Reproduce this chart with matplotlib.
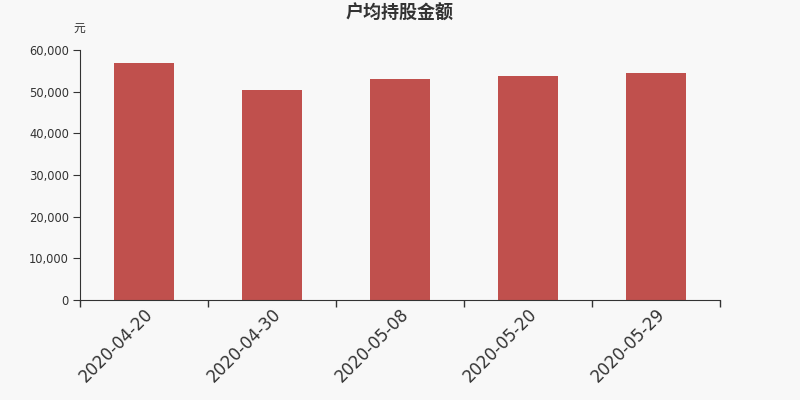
import matplotlib
matplotlib.use("Agg")
import matplotlib.pyplot as plt
from matplotlib.ticker import FuncFormatter, FixedLocator

plt.rcParams['font.family'] = ['DejaVu Sans', 'Noto Sans CJK SC']

categories = ["2020-04-20", "2020-04-30", "2020-05-08", "2020-05-20", "2020-05-29"]
values = [56900, 50500, 53100, 53700, 54400]
y_ticks = [0, 10000, 20000, 30000, 40000, 50000, 60000]

bg = "#f8f8f8"
bar_color = "#c0504d"
txt = "#333333"

fig = plt.figure(figsize=(8, 4), dpi=100, facecolor=bg)
ax = fig.add_axes([0.1, 0.25, 0.8, 0.625], facecolor=bg)

x = list(range(len(categories)))
ax.bar(x, values, width=0.47, color=bar_color, zorder=2)

ax.set_xlim(-0.5, len(categories) - 0.5)
ax.set_ylim(0, 60000)
ax.yaxis.set_major_locator(FixedLocator(y_ticks))
ax.yaxis.set_major_formatter(FuncFormatter(lambda v, p: f"{int(v):,}"))

ax.set_xticks(x)
ax.set_xticklabels(categories, rotation=45, ha="right", rotation_mode="anchor",
                   fontsize=12, color=txt)
ax.tick_params(axis="x", length=0, pad=4)
ax.set_xticks([i - 0.5 for i in range(len(categories) + 1)], minor=True)
ax.tick_params(axis="x", which="minor", length=5, color=txt, width=1)
ax.tick_params(axis="y", length=5, color=txt, labelsize=8.3, labelcolor=txt, pad=3)

for s in ["top", "right"]:
    ax.spines[s].set_visible(False)
ax.spines["left"].set_color(txt)
ax.spines["bottom"].set_color(txt)

fig.text(0.4995, 0.966, "户均持股金额", ha="center", va="center", fontsize=13,
         fontweight="bold", color=txt, family=["Noto Sans CJK SC", "DejaVu Sans"])
fig.text(0.0995, 0.93, "元", ha="center", va="center", fontsize=8.5, color=txt,
         family=["Noto Sans CJK SC", "DejaVu Sans"])

fig.savefig("out.png", dpi=100, facecolor=bg)
